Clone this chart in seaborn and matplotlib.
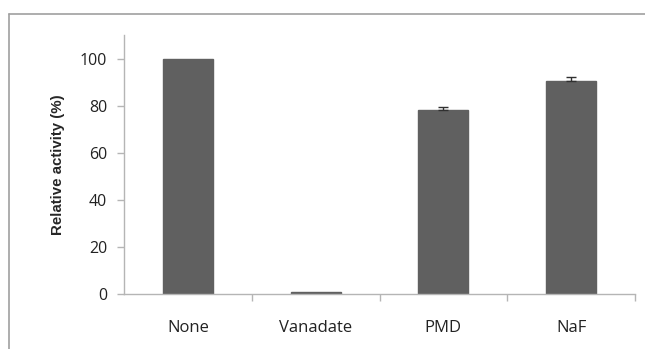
import matplotlib
matplotlib.use("Agg")
import matplotlib.pyplot as plt
import seaborn as sns
import pandas as pd
from matplotlib.lines import Line2D
from matplotlib.ticker import FixedLocator

categories = ["None", "Vanadate", "PMD", "NaF"]
values = [100.0, 0.7, 78.0, 90.5]
errors = [0.0, 0.0, 1.3, 1.6]
yticks = [0, 20, 40, 60, 80, 100]

sns.set_theme(style="white")
plt.rcParams['font.family'] = ['Open Sans', 'DejaVu Sans']

df = pd.DataFrame({"cat": categories, "val": values, "err": errors})

fig = plt.figure(figsize=(6.45, 3.49), dpi=100)
ax = fig.add_axes([124/645, 1-294/349, (635-124)/645, (294-35)/349])

sns.barplot(data=df, x="cat", y="val", color="#606060", width=0.39,
            saturation=1, ax=ax, errorbar=None)
for p in ax.patches:
    p.set_edgecolor("#606060")
sub = df[df["err"] > 0]
ax.errorbar(sub.index.to_numpy(), sub["val"],
            yerr=[[0]*len(sub), sub["err"]], fmt="none",
            ecolor="#303030", elinewidth=1, capsize=3.5, capthick=1)

ax.set_ylim(0, 110)
ax.set_xlim(-0.5, 3.5)
ax.set_yticks(yticks)
ax.set_xlabel("")
ax.set_ylabel("Relative activity (%)", fontsize=10.8, fontweight="bold",
              family=["Liberation Sans", "DejaVu Sans"], labelpad=11)

for s in ["top", "right"]:
    ax.spines[s].set_visible(False)
for s in ["left", "bottom"]:
    ax.spines[s].set_color("#b5b5b5")
    ax.spines[s].set_linewidth(1)

ax.tick_params(axis="y", direction="out", length=5, width=1, color="#b5b5b5",
               labelsize=11.5, labelcolor="#222222", pad=7, left=True)
ax.tick_params(axis="x", which="major", length=0, labelsize=12,
               labelcolor="#222222", pad=19)
ax.xaxis.set_minor_locator(FixedLocator([0.5, 1.5, 2.5, 3.5]))
ax.tick_params(axis="x", which="minor", direction="out", length=5, width=1,
               color="#b5b5b5", bottom=True)

# outer chart frame
fig.add_artist(Line2D([9/645, 9/645], [0, 1-14/349], transform=fig.transFigure,
                      color="#a0a0a0", linewidth=1.2))
fig.add_artist(Line2D([9/645, 1], [1-14/349, 1-14/349], transform=fig.transFigure,
                      color="#a0a0a0", linewidth=1.2))

fig.savefig("out.png", dpi=100)
